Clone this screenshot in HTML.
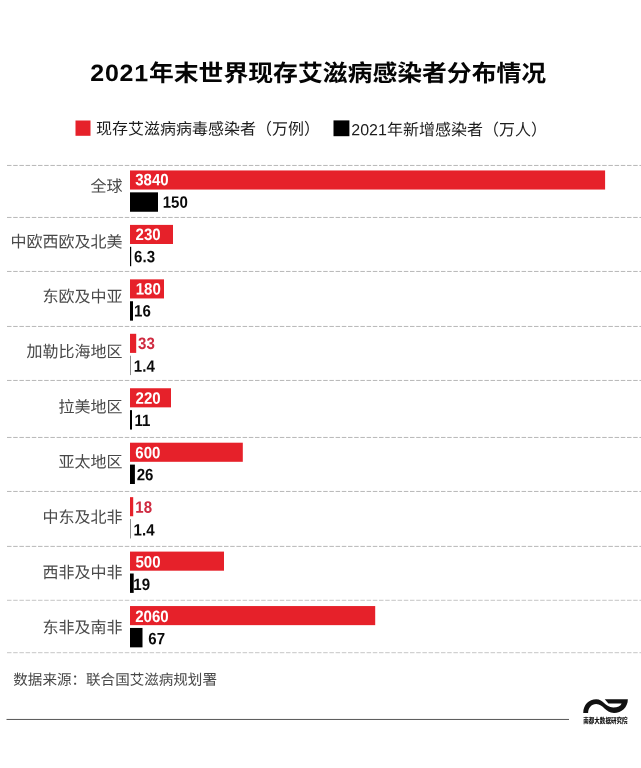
<!DOCTYPE html>
<html lang="zh-CN"><head><meta charset="utf-8"><title>2021年末世界现存艾滋病感染者分布情况</title>
<style>
html,body{margin:0;padding:0;background:#fff;}
body{width:641px;height:768px;position:relative;overflow:hidden;font-family:"Liberation Sans", "Noto Sans CJK SC", sans-serif;color:#111;}
.abs{position:absolute;left:0;top:0;white-space:nowrap;}
svg.shapes{position:absolute;left:0;top:0;}
.title{font-size:24.84px;font-weight:700;line-height:36px;color:#050505;transform-origin:0 50%;}
.title span{font-size:25px;letter-spacing:.75px;}
.leg{transform-origin:0 50%;font-size:16px;line-height:20px;color:#1c1c1c;font-weight:400;}
.cat{transform-origin:0 50%;font-size:16px;line-height:20px;color:#484848;font-weight:400;text-align:right;left:0;width:122.6px;}
.v{font-size:16.5px;line-height:20px;font-weight:700;transform-origin:0 50%;}
.vw{color:#fff;}
.vr{color:#cf2a40;}
.vb{color:#0a0a0a;}
.src{transform-origin:0 50%;font-size:14.55px;line-height:20px;color:#484848;font-weight:400;}
</style></head><body>
<svg class="shapes" width="641" height="768" viewBox="0 0 641 768">
<line x1="7" y1="165.45" x2="641" y2="165.45" stroke="#a4a4a4" stroke-width="0.8" stroke-dasharray="4.5 1.7"/>
<line x1="7" y1="217.45" x2="641" y2="217.45" stroke="#a4a4a4" stroke-width="0.8" stroke-dasharray="4.5 1.7"/>
<line x1="7" y1="271.45" x2="641" y2="271.45" stroke="#a4a4a4" stroke-width="0.8" stroke-dasharray="4.5 1.7"/>
<line x1="7" y1="326.45" x2="641" y2="326.45" stroke="#a4a4a4" stroke-width="0.8" stroke-dasharray="4.5 1.7"/>
<line x1="7" y1="380.45" x2="641" y2="380.45" stroke="#a4a4a4" stroke-width="0.8" stroke-dasharray="4.5 1.7"/>
<line x1="7" y1="437.45" x2="641" y2="437.45" stroke="#a4a4a4" stroke-width="0.8" stroke-dasharray="4.5 1.7"/>
<line x1="7" y1="491.45" x2="641" y2="491.45" stroke="#a4a4a4" stroke-width="0.8" stroke-dasharray="4.5 1.7"/>
<line x1="7" y1="546.40" x2="641" y2="546.40" stroke="#a4a4a4" stroke-width="0.8" stroke-dasharray="4.5 1.7"/>
<line x1="7" y1="600.30" x2="641" y2="600.30" stroke="#b8b8b8" stroke-width="0.8" stroke-dasharray="4.5 1.7"/>
<line x1="7" y1="652.70" x2="641" y2="652.70" stroke="#b8b8b8" stroke-width="0.8" stroke-dasharray="4.5 1.7"/>
<rect x="75.5" y="120.5" width="15" height="15.3" fill="#e6212a"/>
<rect x="333.5" y="120.4" width="15.9" height="15.8" fill="#000"/>
<rect x="130" y="170.45" width="475.10" height="19.1" fill="#e6212a"/>
<rect x="130" y="192.35" width="28.00" height="19.4" fill="#000"/>
<rect x="130" y="224.90" width="43.00" height="19.1" fill="#e6212a"/>
<rect x="130" y="246.80" width="1.20" height="19.4" fill="#000"/>
<rect x="130" y="279.35" width="34.00" height="19.1" fill="#e6212a"/>
<rect x="130" y="301.25" width="3.00" height="19.4" fill="#000"/>
<rect x="130" y="333.80" width="6.20" height="19.1" fill="#e6212a"/>
<rect x="130" y="355.70" width="0.45" height="19.4" fill="#000"/>
<rect x="130" y="388.25" width="41.00" height="19.1" fill="#e6212a"/>
<rect x="130" y="410.15" width="2.00" height="19.4" fill="#000"/>
<rect x="130" y="442.70" width="112.80" height="19.1" fill="#e6212a"/>
<rect x="130" y="464.60" width="4.90" height="19.4" fill="#000"/>
<rect x="130" y="497.15" width="3.20" height="19.1" fill="#e6212a"/>
<rect x="130" y="519.05" width="0.45" height="19.4" fill="#000"/>
<rect x="130" y="551.60" width="94.00" height="19.1" fill="#e6212a"/>
<rect x="130" y="573.50" width="3.70" height="19.4" fill="#000"/>
<rect x="130" y="606.05" width="245.20" height="19.1" fill="#e6212a"/>
<rect x="130" y="627.95" width="12.50" height="19.4" fill="#000"/>
<line x1="6.5" y1="719.45" x2="569" y2="719.45" stroke="#555" stroke-width="1"/>
<path d="M583.24,713.03 C583.24,704.92 588.92,699.3 596.22,699.3 C603.52,699.3 604.9,707.4 613.25,707.4 C617.6,707.4 620.7,706 621.6,703.5 L608.4,703.5 L604.74,699.3 L627.85,699.3 C627.85,707.35 621.36,713.03 614.06,713.03 C605.14,713.03 603.52,704.11 596.22,704.11 C591.35,704.11 588.11,708.17 588.11,713.03 Z" fill="#111"/>
<text x="583.3" y="722.9" font-size="6.3" font-weight="900" fill="#111" textLength="44.2" lengthAdjust="spacingAndGlyphs" style="font-family:'Liberation Sans', 'Noto Sans CJK SC', sans-serif">南都大数据研究院</text>
</svg>
<div class="abs title" id="title" style="transform:translate(90.30px,54.60px) scaleY(0.94) skewY(0.05deg)"><span>2021</span>年末世界现存艾滋病感染者分布情况</div>
<div class="abs leg" id="leg1" style="transform:translate(96.10px,119.35px) skewY(0.05deg)">现存艾滋病病毒感染者（万例）</div>
<div class="abs leg" id="leg2" style="transform:translate(351.30px,120.15px) skewY(0.05deg)">2021年新增感染者（万人）</div>
<div class="abs cat" id="c0" style="transform:translate(0,176.75px) skewY(0.05deg)">全球</div>
<div class="abs v vw" id="r0" style="transform:translate(135.20px,169.25px) scaleX(0.913) skewY(0.05deg)">3840</div>
<div class="abs v vb" id="b0" style="transform:translate(162.70px,191.65px) scaleX(0.913) skewY(0.05deg)">150</div>
<div class="abs cat" id="c1" style="transform:translate(0,232.33px) skewY(0.05deg)">中欧西欧及北美</div>
<div class="abs v vw" id="r1" style="transform:translate(135.50px,223.90px) scaleX(0.913) skewY(0.05deg)">230</div>
<div class="abs v vb" id="b1" style="transform:translate(134.10px,246.30px) scaleX(0.913) skewY(0.05deg)">6.3</div>
<div class="abs cat" id="c2" style="transform:translate(0,287.06px) skewY(0.05deg)">东欧及中亚</div>
<div class="abs v vw" id="r2" style="transform:translate(135.70px,278.45px) scaleX(0.913) skewY(0.05deg)">180</div>
<div class="abs v vb" id="b2" style="transform:translate(134.10px,300.40px) scaleX(0.913) skewY(0.05deg)">16</div>
<div class="abs cat" id="c3" style="transform:translate(0,342.09px) skewY(0.05deg)">加勒比海地区</div>
<div class="abs v vr" id="r3" style="transform:translate(138.00px,333.05px) scaleX(0.913) skewY(0.05deg)">33</div>
<div class="abs v vb" id="b3" style="transform:translate(133.85px,355.70px) scaleX(0.913) skewY(0.05deg)">1.4</div>
<div class="abs cat" id="c4" style="transform:translate(0,397.52px) skewY(0.05deg)">拉美地区</div>
<div class="abs v vw" id="r4" style="transform:translate(135.55px,387.75px) scaleX(0.913) skewY(0.05deg)">220</div>
<div class="abs v vb" id="b4" style="transform:translate(134.40px,409.90px) scaleX(0.913) skewY(0.05deg)">11</div>
<div class="abs cat" id="c5" style="transform:translate(0,452.40px) skewY(0.05deg)">亚太地区</div>
<div class="abs v vw" id="r5" style="transform:translate(135.30px,442.30px) scaleX(0.913) skewY(0.05deg)">600</div>
<div class="abs v vb" id="b5" style="transform:translate(136.65px,464.20px) scaleX(0.913) skewY(0.05deg)">26</div>
<div class="abs cat" id="c6" style="transform:translate(0,507.68px) skewY(0.05deg)">中东及北非</div>
<div class="abs v vr" id="r6" style="transform:translate(135.30px,496.80px) scaleX(0.913) skewY(0.05deg)">18</div>
<div class="abs v vb" id="b6" style="transform:translate(133.60px,519.50px) scaleX(0.913) skewY(0.05deg)">1.4</div>
<div class="abs cat" id="c7" style="transform:translate(0,562.86px) skewY(0.05deg)">西非及中非</div>
<div class="abs v vw" id="r7" style="transform:translate(135.40px,551.50px) scaleX(0.913) skewY(0.05deg)">500</div>
<div class="abs v vb" id="b7" style="transform:translate(133.30px,573.95px) scaleX(0.913) skewY(0.05deg)">19</div>
<div class="abs cat" id="c8" style="transform:translate(0,617.84px) skewY(0.05deg)">东非及南非</div>
<div class="abs v vw" id="r8" style="transform:translate(135.20px,606.10px) scaleX(0.913) skewY(0.05deg)">2060</div>
<div class="abs v vb" id="b8" style="transform:translate(148.30px,628.30px) scaleX(0.913) skewY(0.05deg)">67</div>
<div class="abs src" id="src" style="transform:translate(13.30px,669.70px) skewY(0.05deg)">数据来源：联合国艾滋病规划署</div>
</body></html>
